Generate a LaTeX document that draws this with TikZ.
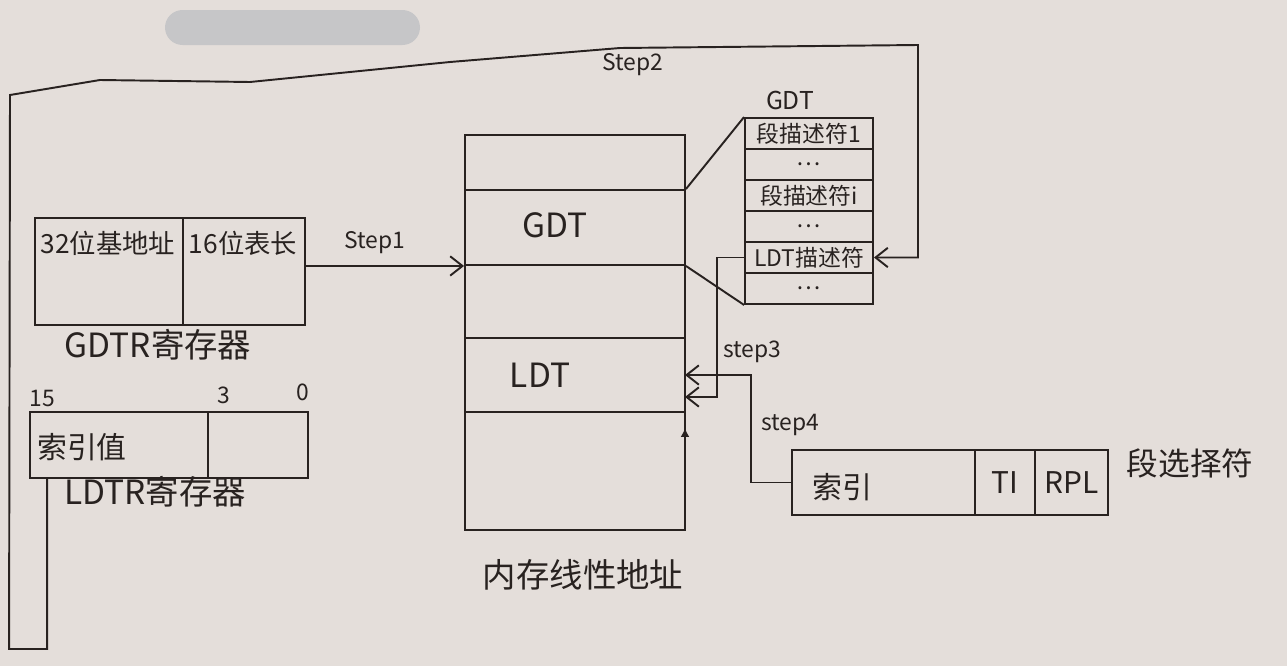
\documentclass[tikz,border=0pt]{standalone}
\usepackage{fontspec}
\setmainfont{Noto Sans CJK SC}
\usetikzlibrary{arrows.meta}

\definecolor{paper}{RGB}{228,222,218}
\definecolor{ink}{RGB}{40,34,32}
\definecolor{blur}{RGB}{198,198,200}

\begin{document}
\begin{tikzpicture}[x=0.02cm, y=-0.02cm, color=ink, line width=1.1pt,
    cell/.style={draw, inner sep=0pt, font=\fontsize{17}{20}\selectfont},
    gdtrow/.style={draw, inner sep=0pt, minimum width=2.56cm, minimum height=0.62cm,
        font=\fontsize{13}{15}\selectfont},
    memrow/.style={draw, inner sep=0pt, minimum width=4.4cm},
    celltext/.style={font=\fontsize{15}{18}\selectfont},
    idxtext/.style={font=\fontsize{17}{20}\selectfont},
    bigtext/.style={font=\fontsize{19}{22}\selectfont},
    steplbl/.style={font=\fontsize{13}{15}\selectfont},
    flow/.style={-{Straight Barb[length=7pt,width=11pt]}}]

    % ============================================================
    % PAPER
    % ============================================================
    \fill[paper] (0,0) rectangle (1287,666);
    \useasboundingbox (0,0) rectangle (1287,666);
    \fill[blur, rounded corners=10pt] (165,10) rectangle (420,45);

    % ============================================================
    % GDTR REGISTER
    % ============================================================
    \node[cell, minimum width=2.96cm, minimum height=2.14cm] (gbase) at (109,271.5) {};
    \node[cell, minimum width=2.44cm, minimum height=2.14cm] (glen) at (244,271.5) {};
    \node[celltext] (gbasetxt) at (108,243) {32位基地址};
    \node[celltext] (glentxt) at (243,243) {16位表长};
    \node[bigtext] (gdtrname) at (158,345) {GDTR寄存器};

    % ============================================================
    % LDTR REGISTER
    % ============================================================
    \node[cell, minimum width=3.56cm, minimum height=1.32cm] (ldtidx) at (119,445) {};
    \node[cell, minimum width=2cm, minimum height=1.32cm] (ldtlow) at (258,445) {};
    \node[idxtext] (ldtidxtxt) at (82,447) {索引值};
    \node[steplbl] (bit15) at (42,398) {15};
    \node[steplbl] (bit3) at (224,395) {3};
    \node[steplbl] (bit0) at (303,392) {0};
    \node[bigtext] (ldtrname) at (155,492) {LDTR寄存器};

    % ============================================================
    % LINEAR MEMORY
    % ============================================================
    \node[memrow, minimum height=1.1cm] (mem0) at (575,162.5) {};
    \node[memrow, minimum height=1.5cm] (memgdt) at (575,227.5) {};
    \node[memrow, minimum height=1.46cm] (mem2) at (575,301.5) {};
    \node[memrow, minimum height=1.48cm] (memldt) at (575,375) {};
    \node[memrow, minimum height=2.36cm] (mem4) at (575,471) {};
    \node[bigtext] (memgdttxt) at (555,225) {GDT};
    \node[bigtext] (memldttxt) at (540,375) {LDT};
    \node[bigtext] (memname) at (583,575) {内存线性地址};

    % ============================================================
    % GDT TABLE
    % ============================================================
    \foreach \i/\txt in {1/段描述符1, 2/\dots, 3/段描述符i, 4/\dots, 5/LDT描述符, 6/\dots}
        \node[gdtrow] (g\i) at (809,102.5+31*\i) {\txt};
    \node[font=\fontsize{14}{16}\selectfont] (gdtname) at (790,100) {GDT};
    \draw (memgdt.north east) -- (g1.north west);
    \draw (memgdt.south east) -- (g6.south west);

    % ============================================================
    % SEGMENT SELECTOR
    % ============================================================
    \node[cell, minimum width=3.66cm, minimum height=1.3cm] (selidx) at (883.5,482.5) {};
    \node[cell, minimum width=1.2cm, minimum height=1.3cm] (selti) at (1005,482.5) {TI};
    \node[cell, minimum width=1.46cm, minimum height=1.3cm] (selrpl) at (1071.5,482.5) {RPL};
    \node[idxtext] (selidxtxt) at (842,487) {索引};
    \node[font=\fontsize{18}{21}\selectfont] (selname) at (1190,463) {段选择符};

    % ============================================================
    % STEPS
    % ============================================================
    \coordinate (in3) at (685,397);
    \coordinate (in4) at (685,375);

    \draw[flow] (glen.east |- memgdt.south) -- (memgdt.south west);
    \node[steplbl] (s1) at (375,243) {Step1};

    \draw[flow] (ldtidx.south west) ++(18,0) -- ++(0,170) -- ++(-38,0)
        -- (10,95) -- (100,80) -- (250,82) -- (450,62) -- (620,48)
        -- (918,45) |- (g5.east);
    \node[steplbl] (s2) at (633,65) {Step2};

    \draw[flow] (g5.west) -- ++(-27,0) |- (in3);
    \node[steplbl] (s3) at (752,352) {step3};

    \draw[flow] (selidx.west) -- ++(-40,0) |- (in4);
    \node[steplbl] (s4) at (790,425) {step4};

    \draw[-{Latex[length=5pt,width=5pt]}] (685,447) -- (685,428);

\end{tikzpicture}
\end{document}
